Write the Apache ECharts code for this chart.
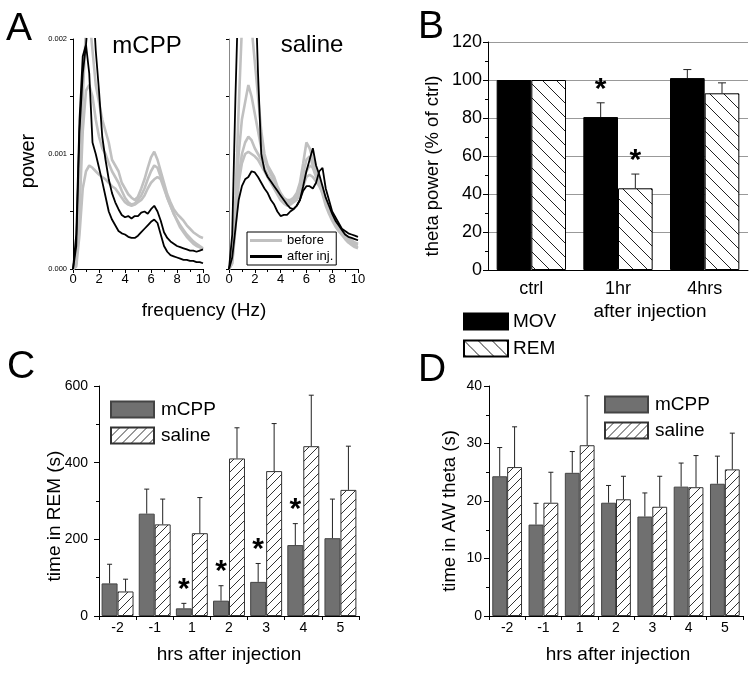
<!DOCTYPE html>
<html><head><meta charset="utf-8">
<script src="https://cdn.jsdelivr.net/npm/echarts@6/dist/echarts.min.js"></script>
<style>html,body{margin:0;padding:0;background:#fff}#c{width:755px;height:675px}</style>
</head><body><div id="c"></div>
<script>
// ---------- Panel A: power spectra (power in units of 0.001) ----------
const freq = [0,0.25,0.5,0.75,1,1.25,1.5,1.75,2,2.25,2.5,2.75,3,3.25,3.5,3.75,4,4.25,4.5,4.75,5,5.25,5.5,5.75,6,6.25,6.5,6.75,7,7.25,7.5,7.75,8,8.25,8.5,8.75,9,9.25,9.5,9.75,10];
const mcppBefore1 = [0,0.05,0.6,1.5,2.1,2.2,1.9,1.6,1.45,1.3,1.2,1.1,0.95,0.9,0.85,0.75,0.7,0.65,0.62,0.6,0.63,0.7,0.78,0.88,0.97,1.02,0.95,0.85,0.75,0.65,0.58,0.52,0.48,0.45,0.42,0.38,0.35,0.32,0.3,0.28,0.27];
const mcppBefore2 = [0,0.05,0.5,1.2,1.55,1.6,1.5,1.3,1.15,1.05,1.0,0.92,0.85,0.8,0.75,0.68,0.62,0.58,0.56,0.57,0.6,0.64,0.7,0.78,0.85,0.9,0.88,0.8,0.72,0.62,0.55,0.48,0.43,0.38,0.34,0.3,0.27,0.24,0.22,0.2,0.18];
const mcppBefore3 = [0,0.02,0.3,0.7,0.85,0.9,0.88,0.85,0.82,0.8,0.78,0.75,0.72,0.7,0.66,0.62,0.58,0.56,0.55,0.56,0.58,0.6,0.64,0.7,0.75,0.78,0.8,0.78,0.7,0.62,0.55,0.48,0.42,0.36,0.32,0.28,0.25,0.22,0.2,0.19,0.17];
const mcppAfter1 = [0,0.2,1.2,1.7,1.95,2.3,2.4,1.9,1.55,1.15,0.95,0.78,0.66,0.58,0.52,0.47,0.45,0.46,0.44,0.46,0.46,0.49,0.5,0.48,0.52,0.55,0.5,0.42,0.32,0.27,0.24,0.22,0.2,0.19,0.18,0.17,0.16,0.16,0.15,0.16,0.17];
const mcppAfter2 = [0,0.3,1.3,1.85,1.95,1.7,1.1,1.0,0.88,0.76,0.63,0.5,0.43,0.38,0.33,0.31,0.3,0.28,0.27,0.27,0.29,0.32,0.35,0.38,0.41,0.43,0.4,0.3,0.2,0.15,0.12,0.11,0.1,0.09,0.08,0.08,0.07,0.07,0.06,0.06,0.05];
const salBefore1 = [0,0.1,0.6,1.4,2.1,2.4,2.3,2.1,1.8,1.5,1.2,1.0,0.9,0.85,0.8,0.72,0.66,0.62,0.6,0.6,0.62,0.66,0.75,0.92,1.1,1.05,0.95,0.85,0.75,0.65,0.55,0.48,0.42,0.37,0.33,0.3,0.27,0.25,0.23,0.22,0.21];
const salBefore2 = [0,0.08,0.5,1.0,1.3,1.45,1.6,1.5,1.35,1.2,1.05,0.95,0.88,0.82,0.77,0.7,0.65,0.6,0.58,0.59,0.6,0.64,0.7,0.82,0.95,0.98,0.9,0.85,0.78,0.7,0.6,0.52,0.46,0.4,0.36,0.32,0.3,0.27,0.25,0.23,0.22];
const salBefore3 = [0,0.05,0.4,0.8,1.0,1.1,1.15,1.12,1.05,1.0,0.95,0.88,0.82,0.78,0.72,0.68,0.63,0.6,0.57,0.58,0.6,0.63,0.68,0.78,0.85,0.9,0.88,0.8,0.75,0.68,0.6,0.52,0.45,0.4,0.35,0.3,0.27,0.24,0.22,0.2,0.19];
const salBefore4 = [0,0.05,0.35,0.75,0.92,1.0,1.02,1.0,0.98,0.95,0.9,0.85,0.8,0.75,0.7,0.65,0.6,0.57,0.55,0.56,0.58,0.6,0.65,0.72,0.8,0.82,0.8,0.76,0.72,0.66,0.58,0.5,0.44,0.38,0.34,0.3,0.26,0.23,0.21,0.19,0.18];
const salAfter1 = [0,0.3,1.5,2.5,3.0,3.0,3.0,2.9,2.6,1.7,1.0,0.86,0.8,0.76,0.72,0.68,0.64,0.6,0.56,0.53,0.52,0.55,0.6,0.72,0.85,0.95,1.05,0.9,0.82,0.72,0.62,0.55,0.48,0.42,0.38,0.34,0.3,0.28,0.27,0.26,0.25];
const salAfter2 = [0,0.1,0.35,0.6,0.72,0.78,0.8,0.85,0.84,0.8,0.75,0.7,0.66,0.6,0.56,0.5,0.46,0.47,0.47,0.5,0.52,0.55,0.6,0.68,0.72,0.72,0.7,0.75,0.85,0.88,0.7,0.6,0.5,0.45,0.4,0.35,0.33,0.31,0.3,0.29,0.28];
const powerTicks = ['0.000','0.001','0.002'];

// ---------- Panel B ----------
const bCats = ['ctrl','1hr','4hrs'];
const bMov = [100, 80.5, 101];
const bMovErr = [0, 7.5, 4.5];
const bRem = [100, 43, 93];
const bRemErr = [0, 7.5, 5.5];
const bMovSig = [0, 1, 0];
const bRemSig = [0, 1, 0];

// ---------- Panels C & D ----------
const hrs = ['-2','-1','1','2','3','4','5'];
const cMcpp = [85, 267, 20, 40, 89, 185, 203];
const cMcppErr = [50, 64, 13, 39, 48, 56, 102];
const cSal = [64, 239, 216, 411, 378, 443, 329];
const cSalErr = [32, 66, 93, 80, 124, 133, 114];
const cSig = [0, 0, 1, 1, 1, 1, 0];
const dMcpp = [24.3, 15.9, 24.9, 19.7, 17.3, 22.5, 23.0];
const dMcppErr = [5.0, 3.7, 3.7, 3.0, 4.1, 4.1, 4.8];
const dSal = [25.9, 19.7, 29.7, 20.3, 19.0, 22.4, 25.5];
const dSalErr = [7.0, 5.3, 8.6, 4.0, 5.3, 5.5, 6.3];

const FONT = "'Liberation Sans', Arial, sans-serif";

function hatch(size, dir, color, lw) {
  const c = document.createElement('canvas');
  c.width = size; c.height = size;
  const g = c.getContext('2d');
  g.fillStyle = '#fff'; g.fillRect(0, 0, size, size);
  g.strokeStyle = color; g.lineWidth = lw;
  g.beginPath();
  if (dir === '/') {
    g.moveTo(-1, size + 1); g.lineTo(size + 1, -1);
    g.moveTo(-2, 2); g.lineTo(2, -2);
    g.moveTo(size - 2, size + 2); g.lineTo(size + 2, size - 2);
  } else {
    g.moveTo(-1, -1); g.lineTo(size + 1, size + 1);
    g.moveTo(size - 2, -2); g.lineTo(size + 2, 2);
    g.moveTo(-2, size - 2); g.lineTo(2, size + 2);
  }
  g.stroke();
  return c;
}
const hatchB = { image: hatch(14, '\\', '#222', 1), repeat: 'repeat' };
const hatchCD = { image: hatch(9, '/', '#333', 1), repeat: 'repeat' };

const chart = echarts.init(document.getElementById('c'), null, { renderer: 'canvas' });

const axisLine = { show: true, lineStyle: { color: '#000', width: 1 } };
const tickStyle = { lineStyle: { color: '#000', width: 1 } };

function lineSeries(name, arr, gi, color, width) {
  return {
    type: 'line', name, xAxisIndex: gi, yAxisIndex: gi,
    data: freq.map((f, i) => [f, arr[i]]),
    symbol: 'none', showSymbol: false, clip: true, animation: false,
    lineStyle: { color, width }, itemStyle: { color }, z: width > 2.2 ? 2 : 3
  };
}

function errSeries(axisIdx, vals, errs, sig, offFrac, capHalf, starGap) {
  return {
    type: 'custom', xAxisIndex: axisIdx, yAxisIndex: axisIdx, z: 5, animation: false,
    data: vals.map((v, i) => [i, v, errs[i], sig ? sig[i] : 0]),
    encode: { x: 0, y: 1 },
    renderItem: function (params, api) {
      const i = api.value(0), v = api.value(1), e = api.value(2), s = api.value(3);
      const band = api.size([1, 0])[0];
      const p0 = api.coord([i, v]);
      const p1 = api.coord([i, v + e]);
      const x = p0[0] + offFrac * band;
      const children = [];
      if (e > 0) {
        children.push({ type: 'line', shape: { x1: x, y1: p0[1], x2: x, y2: p1[1] }, style: { stroke: '#222', lineWidth: 1 } });
        children.push({ type: 'line', shape: { x1: x - capHalf, y1: p1[1], x2: x + capHalf, y2: p1[1] }, style: { stroke: '#222', lineWidth: 1 } });
      }
      if (s) {
        children.push({ type: 'text', style: { text: '*', x: x, y: p1[1] - starGap + 4, align: 'center', verticalAlign: 'middle', fontSize: 30, fontWeight: 'bold', fontFamily: FONT, fill: '#000' } });
      }
      return { type: 'group', children };
    }
  };
}

function gtext(text, x, y, size, rot) {
  return { type: 'text', x, y, rotation: rot ? Math.PI / 2 : 0, z: 10,
    style: { text, fontSize: size, fontFamily: FONT, fill: '#000', align: 'center', verticalAlign: 'middle' } };
}

const option = {
  backgroundColor: '#fff',
  animation: false,
  textStyle: { fontFamily: FONT },
  grid: [
    { left: 73, top: 39, width: 130, height: 230 },
    { left: 229, top: 39, width: 129, height: 230 },
    { left: 488, top: 42, width: 260, height: 228 },
    { left: 99, top: 386, width: 260, height: 230 },
    { left: 489, top: 386, width: 254, height: 230 }
  ],
  xAxis: [
    { gridIndex: 0, type: 'value', min: 0, max: 10, interval: 2, axisLine, axisTick: { show: true, length: 4, ...tickStyle },
      minorTick: { show: true, splitNumber: 2, length: 3, lineStyle: { color: '#000' } },
      splitLine: { show: false }, axisLabel: { fontSize: 13, color: '#000', margin: 4, fontFamily: FONT } },
    { gridIndex: 1, type: 'value', min: 0, max: 10, interval: 2, axisLine, axisTick: { show: true, length: 4, ...tickStyle },
      minorTick: { show: true, splitNumber: 2, length: 3, lineStyle: { color: '#000' } },
      splitLine: { show: false }, axisLabel: { fontSize: 13, color: '#000', margin: 4, fontFamily: FONT } },
    { gridIndex: 2, type: 'category', data: bCats, axisLine, axisTick: { show: false },
      axisLabel: { fontSize: 18, color: '#000', margin: 10, fontFamily: FONT } },
    { gridIndex: 3, type: 'category', data: hrs, axisLine, axisTick: { show: true, length: 4, ...tickStyle },
      axisLabel: { fontSize: 14, color: '#000', margin: 5, fontFamily: FONT } },
    { gridIndex: 4, type: 'category', data: hrs, axisLine, axisTick: { show: true, length: 4, ...tickStyle },
      axisLabel: { fontSize: 14, color: '#000', margin: 5, fontFamily: FONT } }
  ],
  yAxis: [
    { gridIndex: 0, type: 'value', min: 0, max: 2, interval: 1, axisLine, axisTick: { show: true, length: 3, ...tickStyle },
      minorTick: { show: true, splitNumber: 2, length: 3, lineStyle: { color: '#000' } }, splitLine: { show: false },
      axisLabel: { fontSize: 7.5, color: '#000', margin: 6, fontFamily: FONT, formatter: (v) => powerTicks[Math.round(v)] } },
    { gridIndex: 1, type: 'value', min: 0, max: 2, interval: 1, axisLine: { show: true, lineStyle: { color: '#888', width: 1 } },
      axisTick: { show: true, length: 3, lineStyle: { color: '#000' } },
      minorTick: { show: true, splitNumber: 2, length: 3, lineStyle: { color: '#000' } }, splitLine: { show: false },
      axisLabel: { show: false } },
    { gridIndex: 2, type: 'value', min: 0, max: 120, interval: 20, axisLine, axisTick: { show: true, length: 5, ...tickStyle },
      minorTick: { show: true, splitNumber: 2, length: 3, lineStyle: { color: '#000' } },
      splitLine: { show: true, lineStyle: { color: '#999', width: 1 } },
      axisLabel: { fontSize: 18, color: '#000', margin: 6, fontFamily: FONT } },
    { gridIndex: 3, type: 'value', min: 0, max: 600, interval: 200, axisLine, axisTick: { show: true, length: 5, ...tickStyle },
      minorTick: { show: true, splitNumber: 2, length: 3, lineStyle: { color: '#000' } }, splitLine: { show: false },
      axisLabel: { fontSize: 14, color: '#000', margin: 11, fontFamily: FONT } },
    { gridIndex: 4, type: 'value', min: 0, max: 40, interval: 10, axisLine, axisTick: { show: true, length: 5, ...tickStyle },
      minorTick: { show: true, splitNumber: 2, length: 3, lineStyle: { color: '#000' } }, splitLine: { show: false },
      axisLabel: { fontSize: 14, color: '#000', margin: 7, fontFamily: FONT } }
  ],
  legend: [
    { data: [{ name: 'before', icon: 'rect' }, { name: 'after inj.', icon: 'rect' }], orient: 'vertical', left: 247, top: 232,
      itemWidth: 32, itemHeight: 3, itemGap: 3,
      padding: [2, 3, 2, 3], borderColor: '#000', borderWidth: 1, selectedMode: false,
      textStyle: { fontSize: 13, color: '#000', fontFamily: FONT } },
    { data: ['MOV', 'REM'], orient: 'vertical', left: 463, top: 312, itemWidth: 44, itemHeight: 16, itemGap: 8, padding: 0,
      selectedMode: false, icon: 'rect', textStyle: { fontSize: 19, color: '#000', fontFamily: FONT } },
    { data: ['mCPP', 'saline'], orient: 'vertical', left: 110, top: 400, itemWidth: 43, itemHeight: 16, itemGap: 7, padding: 0,
      selectedMode: false, icon: 'rect', textStyle: { fontSize: 19, color: '#000', fontFamily: FONT, padding: [0, 0, 0, 2] } },
    { data: ['mCPP', 'saline'], orient: 'vertical', left: 604, top: 395, itemWidth: 43, itemHeight: 16, itemGap: 7, padding: 0,
      selectedMode: false, icon: 'rect', textStyle: { fontSize: 19, color: '#000', fontFamily: FONT, padding: [0, 0, 0, 2] } }
  ],
  series: [
    lineSeries('before', mcppBefore1, 0, '#c0c0c0', 2.6),
    lineSeries('before', mcppBefore2, 0, '#c0c0c0', 2.6),
    lineSeries('before', mcppBefore3, 0, '#c0c0c0', 2.6),
    lineSeries('after inj.', mcppAfter1, 0, '#000', 1.8),
    lineSeries('after inj.', mcppAfter2, 0, '#000', 1.8),
    lineSeries('before', salBefore1, 1, '#c0c0c0', 2.6),
    lineSeries('before', salBefore2, 1, '#c0c0c0', 2.6),
    lineSeries('before', salBefore3, 1, '#c0c0c0', 2.6),
    lineSeries('before', salBefore4, 1, '#c0c0c0', 2.6),
    lineSeries('after inj.', salAfter1, 1, '#000', 1.8),
    lineSeries('after inj.', salAfter2, 1, '#000', 1.8),

    { type: 'bar', name: 'MOV', xAxisIndex: 2, yAxisIndex: 2, data: bMov, barWidth: '40%', barGap: '0%',
      itemStyle: { color: '#000', borderColor: '#000', borderWidth: 1 } },
    { type: 'bar', name: 'REM', xAxisIndex: 2, yAxisIndex: 2, data: bRem, barWidth: '40%', barGap: '0%',
      itemStyle: { color: hatchB, borderColor: '#000', borderWidth: 1 } },
    errSeries(2, bMov, bMovErr, bMovSig, -0.2, 4, 17),
    errSeries(2, bRem, bRemErr, bRemSig, 0.2, 4, 17),

    { type: 'bar', name: 'mCPP', xAxisIndex: 3, yAxisIndex: 3, data: cMcpp, barWidth: '43%', barGap: '0%',
      itemStyle: { color: '#707070', borderColor: '#444', borderWidth: 1 } },
    { type: 'bar', name: 'saline', xAxisIndex: 3, yAxisIndex: 3, data: cSal, barWidth: '43%', barGap: '0%',
      itemStyle: { color: hatchCD, borderColor: '#333', borderWidth: 1 } },
    errSeries(3, cMcpp, cMcppErr, cSig, -0.215, 2.5, 18),
    errSeries(3, cSal, cSalErr, null, 0.215, 2.5, 18),

    { type: 'bar', name: 'mCPP', xAxisIndex: 4, yAxisIndex: 4, data: dMcpp, barWidth: '41%', barGap: '0%',
      itemStyle: { color: '#707070', borderColor: '#444', borderWidth: 1 } },
    { type: 'bar', name: 'saline', xAxisIndex: 4, yAxisIndex: 4, data: dSal, barWidth: '41%', barGap: '0%',
      itemStyle: { color: hatchCD, borderColor: '#333', borderWidth: 1 } },
    errSeries(4, dMcpp, dMcppErr, null, -0.205, 2.5, 18),
    errSeries(4, dSal, dSalErr, null, 0.205, 2.5, 18)
  ],
  graphic: [
    gtext('A', 19, 29, 39),
    gtext('B', 431, 27, 39),
    gtext('C', 21, 367, 39),
    gtext('D', 432, 370, 39),
    gtext('mCPP', 147, 46, 24),
    gtext('saline', 312, 45, 24),
    gtext('power', 28, 161, 20, true),
    gtext('frequency (Hz)', 204, 311, 19),
    gtext('theta power (% of ctrl)', 433, 166, 18.5, true),
    gtext('after injection', 650, 312, 19),
    gtext('time in REM (s)', 55, 516, 19, true),
    gtext('hrs after injection', 229, 655, 19),
    gtext('time in AW theta (s)', 450, 511, 18.5, true),
    gtext('hrs after injection', 618, 655, 19)
  ]
};
chart.setOption(option);
</script>
</body></html>
